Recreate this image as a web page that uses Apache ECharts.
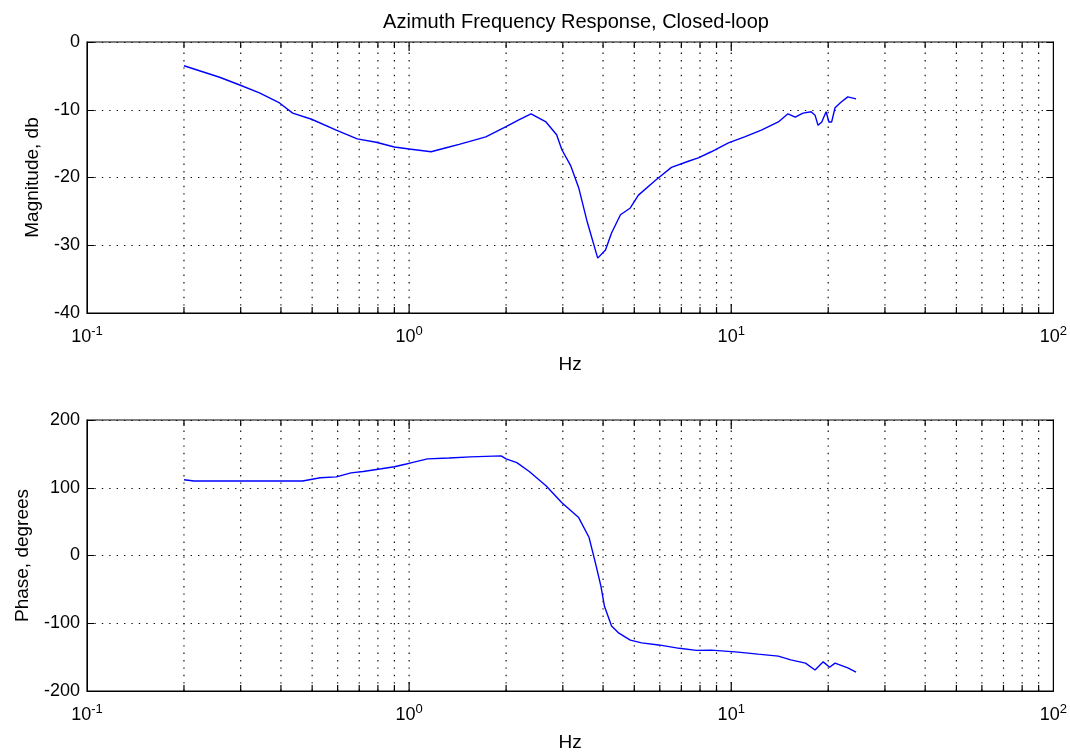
<!DOCTYPE html>
<html>
<head>
<meta charset="utf-8">
<script src="https://cdn.jsdelivr.net/npm/echarts@6/dist/echarts.min.js"></script>
<style>
html,body{margin:0;padding:0;background:#fff;}
#chart{width:1070px;height:753px;}
</style>
</head>
<body>
<div id="chart"></div>
<script>
// magnitude trace
var magFreq = [0.2, 0.258, 0.298, 0.343, 0.396, 0.435, 0.498, 0.594, 0.69, 0.79, 0.9, 1.0, 1.17, 1.33, 1.43, 1.73, 2.0, 2.19, 2.39, 2.66, 2.87, 2.98, 3.17, 3.36, 3.56, 3.85, 4.07, 4.25, 4.53, 4.86, 5.15, 5.82, 6.52, 7.36, 7.9, 8.67, 9.8, 11.0, 12.4, 14.0, 15.0, 15.8, 16.7, 17.7, 18.2, 18.6, 19.1, 19.7, 20.1, 20.5, 21.0, 21.9, 23.0, 24.4];
var magDb = [-3.5, -5.2, -6.35, -7.5, -9.0, -10.5, -11.4, -13.0, -14.3, -14.8, -15.5, -15.8, -16.2, -15.5, -15.1, -14.0, -12.5, -11.5, -10.6, -11.8, -13.7, -15.9, -18.2, -21.5, -26.3, -31.9, -30.7, -28.2, -25.5, -24.5, -22.6, -20.4, -18.5, -17.6, -17.1, -16.2, -14.9, -14.0, -13.0, -11.8, -10.6, -11.1, -10.5, -10.3, -10.8, -12.3, -11.8, -10.3, -11.8, -11.8, -9.7, -8.9, -8.1, -8.4];

// phase trace
var phaseFreq = [0.2, 0.215, 0.467, 0.53, 0.594, 0.66, 0.72, 0.82, 0.9, 0.98, 1.02, 1.14, 1.33, 1.55, 1.93, 2.0, 2.16, 2.36, 2.66, 2.98, 3.36, 3.62, 3.81, 3.94, 4.04, 4.25, 4.48, 4.86, 5.27, 5.95, 6.9, 7.8, 8.67, 10.5, 12.1, 14.0, 15.3, 17.0, 18.2, 19.3, 20.2, 21.0, 23.0, 24.4];
var phaseDeg = [111.8, 110, 110, 114.7, 116, 122, 124, 128, 131, 135, 137, 142.6, 144, 145.6, 147, 142.6, 137, 124, 103, 78, 56, 26.5, -16, -45.6, -75, -104, -114.7, -125, -129, -132, -137, -140, -139.7, -142.6, -145.6, -148.5, -154, -158.8, -169, -157, -165, -158.8, -166, -172];

// log grid lines between decades (major = decade)
var gridFreq = [0.2,0.3,0.4,0.5,0.6,0.7,0.8,0.9,1,2,3,4,5,6,7,8,9,10,20,30,40,50,60,70,80,90];

var chart = echarts.init(document.getElementById('chart'));
var font = 'Liberation Sans, Arial, sans-serif';
var dotted = {color:'#111', width:1.2, type:[1.4,6]};

function pairs(xs, ys){
	var out=[];
	for(var i=0;i<xs.length;i++){ out.push([xs[i], ys[i]]); }
	return out;
}

function xAxisFor(gi){
	return {
		type:'log', logBase:10, min:0.1, max:100, gridIndex:gi,
		name:'Hz', nameLocation:'middle', nameGap:42,
		nameTextStyle:{color:'#000', fontSize:19, fontFamily:font},
		axisLine:{onZero:false, lineStyle:{color:'#000', width:1}},
		axisTick:{show:false},
		splitLine:{show:false},
		axisLabel:{
			color:'#000', fontFamily:font, fontSize:18, margin:12,
			formatter:function(v){ return '10{sup|'+Math.round(Math.log10(v))+'}'; },
			rich:{sup:{fontSize:13, fontFamily:font, color:'#000', verticalAlign:'top', padding:[0,0,12,0]}}
		}
	};
}

function yAxisFor(gi, min, max, interval, name, gap, right){
	return {
		type:'value', gridIndex:gi, min:min, max:max, interval:interval,
		position: right ? 'right' : 'left',
		name: right ? '' : name, nameLocation:'middle', nameGap:gap,
		nameTextStyle:{color:'#000', fontSize:19, fontFamily:font},
		axisLine:{show:true, onZero:false, lineStyle:{color:'#000', width:1}},
		axisTick:{show:true, inside:true, length:7, lineStyle:{color:'#000'}},
		axisLabel:{show:!right, color:'#000', fontFamily:font, fontSize:18, margin:7},
		splitLine:{show:!right, lineStyle:dotted}
	};
}

// vertical dotted grid + inward ticks at top and bottom
function gridSeries(xi, yi, ymin, ymax){
	return {
		type:'custom', xAxisIndex:xi, yAxisIndex:yi, silent:true, z:1,
		data:gridFreq.map(function(f){ return [f]; }),
		renderItem:function(params, api){
			var f = api.value(0);
			var bot = api.coord([f, ymin]);
			var top = api.coord([f, ymax]);
			var major = Math.abs(Math.log10(f) - Math.round(Math.log10(f))) < 1e-6;
			var len = major ? 9 : 6;
			return {type:'group', children:[
				{type:'line', shape:{x1:bot[0], y1:bot[1], x2:top[0], y2:top[1]}, style:{stroke:'#111', lineWidth:1.2, lineDash:[1.4,6]}},
				{type:'line', shape:{x1:bot[0], y1:bot[1], x2:bot[0], y2:bot[1]-len}, style:{stroke:'#000', lineWidth:1.2}},
				{type:'line', shape:{x1:top[0], y1:top[1], x2:top[0], y2:top[1]+len}, style:{stroke:'#000', lineWidth:1.2}}
			]};
		}
	};
}

var option = {
	backgroundColor:'#fff',
	animation:false,
	title:{
		text:'Azimuth Frequency Response, Closed-loop', left:571, top:7, textAlign:'center',
		textStyle:{color:'#000', fontSize:20, fontWeight:'normal', fontFamily:font}
	},
	grid:[
		{left:87, right:15, top:42, height:271, show:true, borderColor:'#000', borderWidth:1.2},
		{left:87, right:15, top:420, height:272, show:true, borderColor:'#000', borderWidth:1.2}
	],
	xAxis:[xAxisFor(0), xAxisFor(1)],
	yAxis:[
		yAxisFor(0, -40, 0, 10, 'Magnitude, db', 45, false),
		yAxisFor(0, -40, 0, 10, '', 0, true),
		yAxisFor(1, -200, 200, 100, 'Phase, degrees', 55, false),
		yAxisFor(1, -200, 200, 100, '', 0, true)
	],
	series:[
		gridSeries(0, 0, -40, 0),
		gridSeries(1, 2, -200, 200),
		{type:'line', xAxisIndex:0, yAxisIndex:0, data:pairs(magFreq, magDb), showSymbol:false, z:5,
			lineStyle:{color:'#0000ff', width:1.4}},
		{type:'line', xAxisIndex:1, yAxisIndex:2, data:pairs(phaseFreq, phaseDeg), showSymbol:false, z:5,
			lineStyle:{color:'#0000ff', width:1.4}}
	]
};
chart.setOption(option);
</script>
</body>
</html>
